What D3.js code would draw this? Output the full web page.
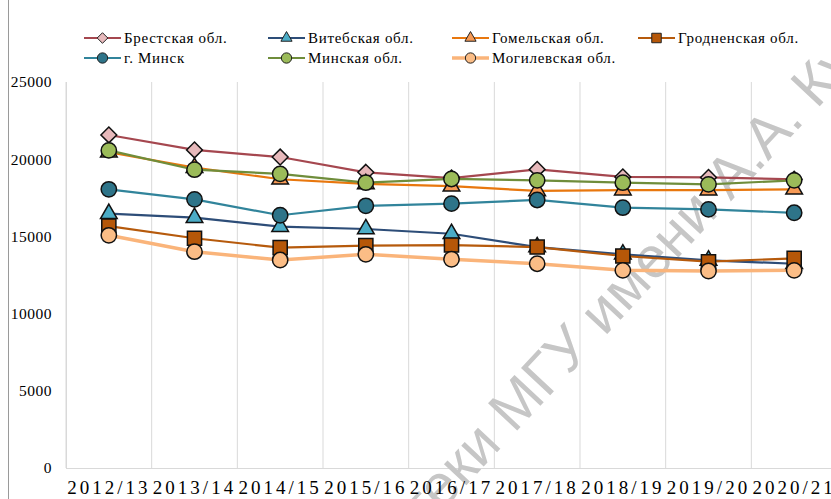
<!DOCTYPE html>
<html>
<head>
<meta charset="utf-8">
<script src="https://cdn.jsdelivr.net/npm/d3@7"></script>
</head>
<body style="margin:0; background:#fff">
<div id="graph"></div>
<script>
let categories = ['2012/13', '2013/14', '2014/15', '2015/16', '2016/17', '2017/18', '2018/19', '2019/20', '2020/21'];

let brest     = [21570, 20600, 20140, 19150, 18780, 19340, 18850, 18820, 18700];
let vitebsk   = [16470, 16210, 15630, 15480, 15170, 14310, 13840, 13450, 13230];
let gomel     = [20450, 19450, 18700, 18400, 18250, 17950, 18000, 18000, 18050];
let grodno    = [15670, 14880, 14270, 14400, 14440, 14310, 13730, 13360, 13580];
let minskCity = [18050, 17400, 16370, 16980, 17120, 17360, 16860, 16750, 16530];
let minskObl  = [20570, 19320, 19050, 18480, 18720, 18630, 18480, 18370, 18630];
let mogilev   = [15070, 14010, 13470, 13840, 13520, 13230, 12800, 12760, 12800];

let yTicks = [0, 5000, 10000, 15000, 20000, 25000];

// square diamond, as drawn by the spreadsheet (d3's own is narrow)
let diamond = {
	draw(context, size) {
		let r = Math.sqrt(size / 2);
		context.moveTo(0, -r);
		context.lineTo(r, 0);
		context.lineTo(0, r);
		context.lineTo(-r, 0);
		context.closePath();
	}
};

let series = [
	{ name: 'Брестская обл.',   values: brest,     line: '#a5474f', fill: '#e7b9bb', symbol: diamond,          size: 125, width: 2.2 },
	{ name: 'Витебская обл.',   values: vitebsk,   line: '#2d4d78', fill: '#4bacc6', symbol: d3.symbolTriangle, size: 120, width: 2.2 },
	{ name: 'Гомельская обл.',  values: gomel,     line: '#e8770e', fill: '#f79a55', symbol: d3.symbolTriangle, size: 120, width: 2.2 },
	{ name: 'Гродненская обл.', values: grodno,    line: '#b65a0c', fill: '#b65708', symbol: d3.symbolSquare,   size: 200, width: 2.2 },
	{ name: 'г. Минск',         values: minskCity, line: '#31849b', fill: '#2e7489', symbol: d3.symbolCircle,   size: 185, width: 2.2 },
	{ name: 'Минская обл.',     values: minskObl,  line: '#6f8d3b', fill: '#9bbb59', symbol: d3.symbolCircle,   size: 185, width: 2.2 },
	{ name: 'Могилевская обл.', values: mogilev,   line: '#fab47a', fill: '#fbbd86', symbol: d3.symbolCircle,   size: 185, width: 3.5 }
];

let serif = "'Liberation Serif'";
let sans = "'Liberation Sans'";

let width = 831, height = 499;

let svg = d3.select('#graph')
	.append('svg')
		.style('display', 'block')
		.attr('width', width)
		.attr('height', height);

let x = d3.scaleBand().domain(categories).range([66, 837]);
let y = d3.scaleLinear().domain([0, 25000]).range([468, 82]);

// frame edge on the left
svg.append('line')
	.attr('x1', 8.5).attr('x2', 8.5)
	.attr('y1', 0).attr('y2', height)
	.attr('stroke', '#9a9a9a')
	.attr('stroke-width', 1);

// vertical gridlines between categories
let xAxis = d3.axisBottom(x)
	.tickSize(-(y(0) - y(25000)))
	.tickFormat('');
let gx = svg.append('g')
	.attr('transform', 'translate(0, ' + y(0) + ')')
	.call(xAxis);
gx.selectAll('.tick line')
	.attr('x1', -x.step() / 2).attr('x2', -x.step() / 2)
	.attr('stroke', '#d9d9d9');
gx.select('.domain').remove();
gx.append('line')
	.attr('x1', 66.5).attr('x2', 66.5)
	.attr('y1', 0).attr('y2', y(25000) - y(0))
	.attr('stroke', '#d9d9d9');
gx.append('line')
	.attr('x1', 66).attr('x2', 840)
	.attr('y1', 0.5).attr('y2', 0.5)
	.attr('stroke', '#d9d9d9');

// watermark
let wm = svg.append('g')
	.attr('transform', 'translate(514, 434) rotate(-47)');
wm.append('text')
	.attr('x', 0).attr('y', 0)
	.style('font-family', sans)
	.style('font-size', '58px')
	.style('fill', '#c6c6c6')
	.text('МГУ имени А.А. Кулешова');
wm.append('text')
	.attr('x', -16).attr('y', 0)
	.attr('text-anchor', 'end')
	.style('font-family', sans)
	.style('font-size', '58px')
	.style('fill', '#c6c6c6')
	.text('библиотеки');

// category labels
svg.append('g')
	.selectAll('text')
	.data(categories)
	.join('text')
		.attr('x', (d) => x(d) + x.bandwidth() / 2)
		.attr('y', 494)
		.attr('text-anchor', 'middle')
		.style('font-family', serif)
		.style('font-size', '19px')
		.style('letter-spacing', '3px')
		.text((d) => d);

// y axis labels
let yAxis = d3.axisLeft(y)
	.tickValues(yTicks)
	.tickSize(0)
	.tickPadding(0)
	.tickFormat((d) => d);
let gy = svg.append('g')
	.attr('transform', 'translate(52, 0)')
	.call(yAxis);
gy.select('.domain').remove();
gy.selectAll('text')
	.style('font-family', serif)
	.style('font-size', '15.5px')
	.style('letter-spacing', '0.5px')
	.style('fill', '#000');

let line = d3.line()
	.x((d, i) => x(categories[i]) + x.bandwidth() / 2)
	.y((d) => y(d));

let plot = svg.append('g');

series.forEach((s) => {
	plot.append('path')
		.attr('d', line(s.values))
		.attr('fill', 'none')
		.attr('stroke', s.line)
		.attr('stroke-width', s.width);
});

series.forEach((s) => {
	plot.append('g')
		.selectAll('path')
		.data(s.values)
		.join('path')
			.attr('d', d3.symbol().type(s.symbol).size(s.size))
			.attr('transform', (d, i) => 'translate(' + (x(categories[i]) + x.bandwidth() / 2) + ', ' + y(d) + ')')
			.attr('fill', s.fill)
			.attr('stroke', '#111')
			.attr('stroke-width', 1.5);
});

// legend
let legendPos = [
	[84, 38], [268, 38], [452, 38], [638, 38],
	[84, 58], [268, 58], [452, 58]
];

let legend = svg.append('g')
	.selectAll('g')
	.data(series)
	.join('g')
		.attr('transform', (d, i) => 'translate(' + legendPos[i][0] + ', ' + legendPos[i][1] + ')');

legend.append('line')
	.attr('x1', 0).attr('x2', 37)
	.attr('stroke', (d) => d.line)
	.attr('stroke-width', (d) => d.width);

legend.append('path')
	.attr('transform', 'translate(18.5, 0)')
	.attr('d', (d) => d3.symbol().type(d.symbol).size(d.size * 0.45)())
	.attr('fill', (d) => d.fill)
	.attr('stroke', '#222')
	.attr('stroke-width', 1);

legend.append('text')
	.attr('x', 40)
	.attr('y', 5)
	.style('font-family', serif)
	.style('font-size', '15px')
	.style('letter-spacing', '0.7px')
	.text((d) => d.name);
</script>
</body>
</html>
